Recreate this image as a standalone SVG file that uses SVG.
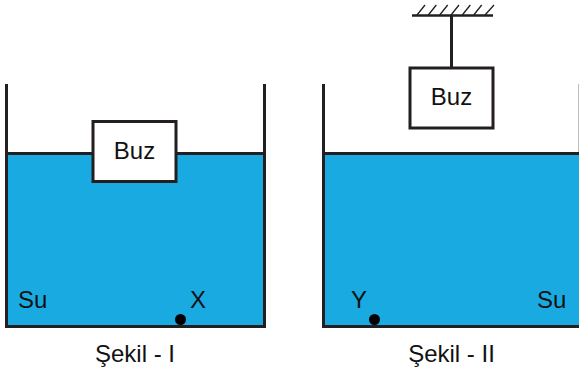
<svg xmlns="http://www.w3.org/2000/svg" width="579" height="372" viewBox="0 0 579 372">
<style>
.w{fill:#19aae2;stroke:none}
.l{fill:none;stroke:#231f20;stroke-width:3}
.t{fill:none;stroke:#231f20;stroke-width:2.500}
.h{fill:none;stroke:#231f20;stroke-width:1.300}
.b{fill:#fff;stroke:#231f20;stroke-width:3}
text{font-family:"Liberation Sans",Arial,sans-serif;font-size:24px;fill:#111}
.c{text-anchor:middle}
.d{fill:#000}
</style>
<rect width="579" height="372" fill="#fff"/>
<g id="container-1">
<rect class="w" x="7" y="153" width="257" height="173"/>
<path class="l" d="M6.500 84V326.500H264.500V84M6.500 153.500H264.500"/>
</g>
<g id="container-2">
<rect class="w" x="323" y="153" width="256" height="173"/>
<path d="M578.500 84V153" fill="none" stroke="#bdbdbd" stroke-width="1"/>
<path class="l" d="M323.500 84V326.500H579M323.500 153.500H579"/>
</g>
<g id="connectors">
<path class="l" d="M451.500 16V68"/>
<path class="t" d="M412 15.500H493"/>
<path class="h" d="M417 15L425 5M428.300 15L436.300 5M439.700 15L447.700 5M451 15L459 5M462.300 15L470.300 5M473.700 15L481.700 5M485 15L494 5"/>
</g>
<g id="ice-1">
<rect class="b" x="93" y="121.500" width="83" height="60"/>
<text class="c" x="134.500" y="159">Buz</text>
</g>
<g id="ice-2">
<rect class="b" x="410" y="68" width="83" height="60"/>
<text class="c" x="451.500" y="105">Buz</text>
</g>
<g id="point-x">
<circle class="d" cx="180.500" cy="319.500" r="5.500"/>
<text x="190" y="308">X</text>
</g>
<g id="point-y">
<circle class="d" cx="374.500" cy="319.500" r="5.500"/>
<text x="351" y="308">Y</text>
</g>
<g id="labels">
<text x="18" y="308">Su</text>
<text x="537" y="308">Su</text>
<text class="c" x="135" y="362">Şekil - I</text>
<text class="c" x="451.500" y="362">Şekil - II</text>
</g>
</svg>
